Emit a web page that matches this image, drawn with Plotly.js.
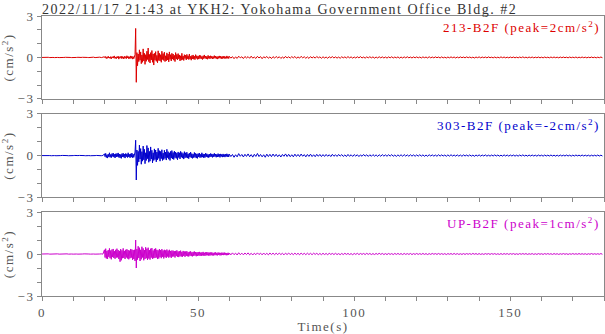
<!DOCTYPE html>
<html>
<head>
<meta charset="utf-8">
<script src="https://cdn.plot.ly/plotly-3.0.1.min.js"></script>
<style>html,body{margin:0;padding:0;background:#fff;}#chart{width:605px;height:334px;}text{letter-spacing:1.5px;}</style>
</head>
<body>
<div id="chart"></div>
<script>
// Sampling segments (s): quiet 0-19.5 @0.5, active 20-59.8 @0.2, tail 60-179.5 @0.5
const segQuiet = {start: 0, step: 0.5, n: 40};
const segActive = {start: 20, step: 0.2, n: 200};
const segTail = {start: 60, step: 0.5, n: 240};

// Acceleration values in 0.01 cm/s^2
const redQuiet = [0,1,-1,0,1,-1,1,0,-1,1,0,-1,1,-1,0,1,-1,1,0,-1,1,-1,0,1,-1,0,1,-1,1,0,-1,1,-2,2,-1,1,-2,2,-1,2];
const redActive = [5,-3,7,-8,2,-6,9,-4,3,-7,6,-10,4,-2,8,-5,11,-7,3,-9,
6,-4,9,-12,5,-3,7,-8,10,-6,4,-11,8,-5,6,-9,12,-4,7,-10,
5,-8,11,-6,9,-12,6,-9,14,20,
210,-180,35,-60,25,-30,55,-20,40,-45,18,-35,62,-25,30,-50,20,-28,45,-15,
68,-30,22,-40,35,-18,50,-35,25,-55,30,-20,42,-28,15,-38,48,-22,30,-25,
20,-35,45,-15,28,-22,38,-30,12,-25,33,-18,24,-32,40,-14,20,-26,30,-12,
25,-20,15,-30,35,-12,22,-18,28,-10,18,-25,12,-20,30,-15,10,-22,20,-8,
16,-18,22,-9,12,-15,25,-12,8,-20,14,-10,18,-13,9,-16,20,-7,12,-14,
10,-12,16,-8,14,-10,7,-15,12,-9,18,-6,10,-11,8,-13,15,-7,9,-10,
12,-6,9,-11,7,-8,13,-5,10,-9,6,-12,8,-7,11,-5,9,-10,6,-8,
10,-6,8,-9,5,-7,11,-6,7,-8];
const redTail = [8,-5,6,-9,4,-7,9,-3,5,-8,7,-4,6,-6,9,-5,3,-7,8,-4,6,-9,5,-3,7,-6,4,-8,6,-5,
7,-4,5,-7,3,-6,8,-4,5,-5,6,-3,7,-6,4,-5,8,-3,5,-6,4,-7,6,-4,5,-5,7,-3,4,-6,
5,-4,3,-6,5,-3,6,-4,4,-5,3,-6,5,-3,4,-4,6,-3,4,-5,3,-4,5,-3,6,-4,3,-5,4,-3,
5,-3,4,-5,3,-4,5,-3,4,-4,3,-5,4,-3,5,-4,3,-3,4,-5,3,-4,4,-3,5,-3,3,-4,4,-3,
4,-3,3,-4,4,-2,3,-4,5,-3,3,-3,4,-2,3,-4,4,-3,2,-4,3,-3,4,-2,3,-4,3,-3,4,-2,
3,-3,4,-2,3,-3,2,-4,3,-2,4,-3,3,-2,3,-3,4,-2,2,-3,3,-3,2,-3,4,-2,3,-3,2,-3,
3,-2,3,-3,2,-3,3,-2,4,-2,2,-3,3,-2,3,-3,2,-2,3,-3,2,-3,3,-2,2,-3,3,-2,3,-2,
2,-3,3,-2,3,-2,2,-3,3,-2,2,-2,3,-3,2,-2,3,-2,2,-3,2,-2,3,-2,2,-3,2,-2,3,-2];

const blueQuiet = [0,1,-1,0,1,0,-1,1,0,-1,1,-1,0,1,-1,1,0,-1,1,-1,0,1,-1,0,1,-1,1,0,-1,1,0,-1,1,-1,0,1,-1,1,-1,1];
const blueActive = [12,-8,16,-14,6,-18,10,-9,20,-12,8,-15,14,-6,18,-11,9,-17,13,-10,
15,-7,19,-13,11,-16,8,-20,14,-9,17,-12,10,-18,15,-8,12,-14,20,-10,
9,-16,13,-11,18,-15,10,-13,16,25,
110,-175,40,-70,30,-45,75,-25,50,-62,28,-40,68,-30,45,-58,20,-35,72,-22,
55,-48,30,-40,62,-25,38,-52,20,-35,48,-28,40,-45,25,-30,52,-20,35,-40,
30,-22,42,-35,18,-28,38,-20,25,-32,45,-15,28,-26,20,-35,30,-18,36,-24,
22,-28,32,-15,25,-20,18,-30,26,-14,20,-24,30,-12,22,-18,15,-25,28,-16,
20,-14,24,-18,12,-22,18,-10,25,-16,14,-20,10,-15,22,-12,16,-18,12,-20,
14,-10,18,-15,9,-13,20,-11,12,-16,10,-14,17,-9,13,-12,8,-15,11,-10,
15,-8,12,-13,10,-9,16,-7,11,-12,9,-10,14,-8,10,-13,12,-7,9,-11,
12,-9,8,-11,10,-7,13,-8,9,-10];
const blueTail = [10,-7,8,-12,6,-9,14,-5,8,-10,9,-6,12,-8,7,-11,9,-6,15,-7,8,-9,6,-12,10,-7,9,-8,11,-6,
9,-8,6,-10,8,-5,12,-7,9,-8,6,-9,10,-6,8,-7,11,-5,7,-9,8,-6,10,-7,6,-8,9,-5,8,-7,
7,-6,8,-5,6,-7,9,-5,6,-6,8,-4,7,-6,5,-7,8,-5,6,-6,7,-4,6,-7,5,-5,8,-4,6,-6,
6,-5,7,-4,5,-6,6,-5,7,-4,5,-5,6,-4,7,-5,4,-6,5,-4,6,-5,7,-4,5,-5,6,-4,5,-5,
5,-4,6,-4,5,-5,4,-5,6,-3,5,-4,4,-5,6,-4,5,-3,4,-5,5,-4,6,-3,4,-4,5,-4,4,-5,
5,-3,4,-4,5,-4,3,-5,4,-3,5,-4,4,-3,5,-4,3,-4,4,-3,5,-3,4,-4,3,-4,5,-3,4,-4,
4,-3,4,-4,3,-4,4,-3,5,-3,3,-4,4,-3,4,-3,3,-4,4,-3,3,-4,4,-3,3,-3,4,-3,3,-4,
3,-4,4,-3,3,-3,4,-3,3,-4,3,-3,4,-2,3,-3,4,-3,3,-3,3,-4,3,-3,3,-3,4,-3,3,-3];

const magQuiet = [0,1,-1,0,1,-1,0,1,0,-1,1,-1,0,1,-1,0,1,-1,1,0,-1,1,0,-1,1,-1,0,1,-1,1,0,-1,1,0,-1,1,-1,0,1,-1];
const magActive = [30,-25,38,-32,22,-35,28,-20,40,-30,25,-38,32,-22,36,-28,20,-34,30,-26,
38,-24,28,-36,22,-55,35,-45,26,-30,40,-28,22,-36,30,-25,34,-32,28,-38,
24,-30,36,-26,32,-42,28,-36,30,-50,
100,-100,35,-40,55,-28,45,-50,30,-38,52,-25,40,-45,28,-35,48,-30,38,-42,
45,-32,28,-40,38,-26,42,-35,25,-30,36,-28,40,-25,30,-36,26,-32,35,-22,
28,-30,35,-20,25,-32,30,-22,26,-28,32,-18,24,-26,30,-20,22,-28,25,-18,
24,-18,20,-25,22,-15,26,-20,18,-22,20,-16,24,-18,15,-20,22,-14,18,-20,
18,-14,20,-16,13,-18,16,-12,19,-15,12,-17,15,-13,18,-11,14,-16,12,-14,
14,-11,15,-13,10,-14,12,-10,15,-12,9,-13,12,-10,14,-9,11,-12,10,-11,
11,-9,12,-10,8,-11,10,-8,12,-9,8,-10,11,-7,9,-10,8,-9,10,-7,
9,-8,10,-7,8,-9,7,-8,9,-7];
const magTail = [7,-6,8,-5,6,-7,9,-5,6,-6,7,-4,8,-6,5,-7,6,-5,8,-4,6,-6,7,-5,5,-6,7,-4,6,-5,
6,-5,7,-4,5,-6,6,-4,7,-5,5,-5,6,-4,5,-6,7,-4,5,-5,6,-4,5,-5,6,-3,5,-5,4,-5,
5,-4,4,-5,5,-3,4,-4,5,-4,3,-5,4,-4,5,-3,4,-4,3,-5,4,-3,5,-4,4,-3,4,-4,5,-3,
4,-4,3,-4,4,-3,5,-3,4,-4,3,-4,4,-3,3,-4,4,-3,4,-3,3,-4,4,-3,3,-3,4,-4,3,-3,
4,-3,3,-3,4,-3,3,-4,3,-3,4,-2,3,-3,4,-3,3,-3,3,-4,3,-2,3,-3,4,-3,3,-3,2,-3,
3,-3,3,-2,3,-3,4,-2,3,-3,3,-3,2,-3,3,-2,3,-3,3,-2,3,-3,2,-3,3,-3,3,-2,3,-3,
3,-2,3,-3,2,-3,3,-2,3,-2,3,-3,2,-2,3,-3,2,-3,3,-2,2,-3,3,-2,3,-2,2,-3,3,-2,
2,-3,2,-2,3,-2,2,-3,2,-2,3,-2,2,-2,3,-2,2,-2,2,-3,2,-2,3,-2,2,-2,2,-2,3,-2];

const labels = ['213-B2F (peak=2cm/s<sup>2</sup>)', '303-B2F (peak=-2cm/s<sup>2</sup>)', 'UP-B2F (peak=1cm/s<sup>2</sup>)'];
const colors = ['#dd0000', '#0000cc', '#cc00cc'];
const titleText = '2022/11/17 21:43 at YKH2: Yokohama Government Office Bldg. #2';

function times(seg) { const t = []; for (let i = 0; i < seg.n; i++) t.push(+(seg.start + i * seg.step).toFixed(2)); return t; }
const T = times(segQuiet).concat(times(segActive), times(segTail));
function vals(a, b, c) { return a.concat(b, c).map(v => v / 100); }
const series = [vals(redQuiet, redActive, redTail), vals(blueQuiet, blueActive, blueTail), vals(magQuiet, magActive, magTail)];

const FONT = 'Liberation Serif, Times New Roman, serif';
const GRAY = '#888888';
const domains = [[0.704, 1], [0.352, 0.651], [0, 0.3]];

const data = series.map((y, i) => ({
  x: T, y: y, type: 'scatter', mode: 'lines',
  line: {color: colors[i], width: 1},
  xaxis: i === 0 ? 'x' : 'x' + (i + 1),
  yaxis: i === 0 ? 'y' : 'y' + (i + 1),
  hoverinfo: 'skip'
}));

const layout = {
  width: 605, height: 334,
  margin: {l: 42, r: 1, t: 16, b: 38},
  paper_bgcolor: '#fff', plot_bgcolor: '#fff',
  showlegend: false,
  font: {family: FONT, size: 13, color: '#555'},
  title: {text: titleText, x: 0, xref: 'paper', xanchor: 'left', y: 1, yref: 'paper', yanchor: 'bottom',
          pad: {b: 2}, font: {family: FONT, size: 14, color: '#333'}},
  annotations: labels.map((txt, i) => ({
    text: txt, xref: 'paper', yref: 'paper', x: 0.997, y: domains[i][1] - 0.004,
    xanchor: 'right', yanchor: 'top', showarrow: false,
    font: {family: FONT, size: 13, color: colors[i]}
  }))
};

for (let i = 0; i < 3; i++) {
  const xa = i === 0 ? 'xaxis' : 'xaxis' + (i + 1);
  const ya = i === 0 ? 'yaxis' : 'yaxis' + (i + 1);
  layout[xa] = {
    range: [0, 180], anchor: i === 0 ? 'y' : 'y' + (i + 1),
    showgrid: false, zeroline: false, showline: true, mirror: true, linecolor: GRAY, linewidth: 1,
    ticks: 'outside', ticklen: 4, tickcolor: GRAY, dtick: 50, tick0: 0,
    minor: {dtick: 10, ticks: 'outside', ticklen: 4, tickcolor: GRAY, showgrid: false},
    showticklabels: i === 2,
    tickfont: {family: FONT, size: 13, color: '#555'}
  };
  if (i === 2) layout[xa].title = {text: 'Time(s)', standoff: 2, font: {family: FONT, size: 13, color: '#555'}};
  layout[ya] = {
    domain: domains[i], range: [-3, 3], anchor: i === 0 ? 'x' : 'x' + (i + 1),
    showgrid: false, zeroline: false, showline: true, mirror: true, linecolor: GRAY, linewidth: 1,
    ticks: 'outside', ticklen: 4, tickcolor: GRAY, dtick: 3, tick0: 0,
    minor: {dtick: 1, ticks: 'outside', ticklen: 4, tickcolor: GRAY, showgrid: false},
    tickfont: {family: FONT, size: 13, color: '#555'},
    title: {text: '(cm/s<sup>2</sup>)', standoff: 2, font: {family: FONT, size: 13, color: '#555'}}
  };
}

Plotly.newPlot('chart', data, layout, {staticPlot: true, displayModeBar: false});
</script>
</body>
</html>
